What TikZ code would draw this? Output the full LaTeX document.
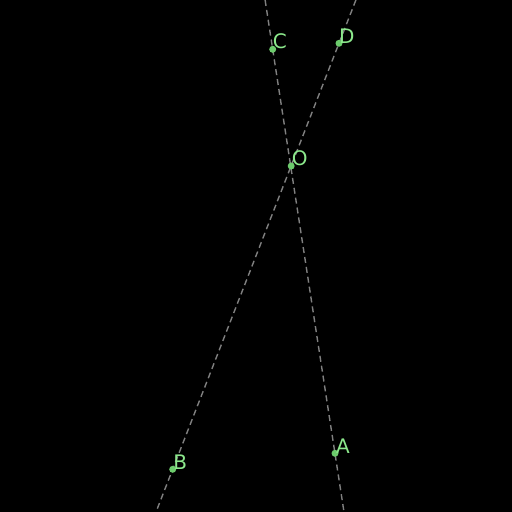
\documentclass[tikz,border=0pt]{standalone}
\usepackage{fontspec}
\setmainfont{DejaVu Sans}
\definecolor{lbl}{HTML}{8CE88C}
\definecolor{dotc}{HTML}{6CCB6C}
\definecolor{ln}{HTML}{808080}
\begin{document}
\begin{tikzpicture}[x=1pt,y=-1pt,
  guide/.style={ln, line width=1.4pt, dash pattern=on 6pt off 4pt},
  pt/.style={circle, fill=dotc, inner sep=0pt, minimum size=7pt},
  lab/.style={lbl, anchor=base west, inner sep=0pt, font=\fontsize{20}{20}\selectfont}]
\fill[black] (0,0) rectangle (512,512);
\useasboundingbox (0,0) rectangle (512,512);
\begin{scope}
\clip (0,0) rectangle (512,512);
\coordinate (t1) at (265.1,0);
\coordinate (b1) at (344.0,512);
\coordinate (t2) at (355.9,0);
\coordinate (b2) at (156.0,512);
\draw[guide] (t1) -- (b1);
\draw[guide] (t2) -- (b2);
\end{scope}
\node[pt] (C) at (272.7,49.3) {};
\node[pt] (D) at (339,43.3) {};
\node[pt] (O) at (291.2,166) {};
\node[pt] (A) at (335,453.3) {};
\node[pt] (B) at (172.7,469.3) {};
\node[lab] (lC) at ([xshift=0pt,yshift=1pt]C.center) {C};
\node[lab] (lD) at ([xshift=0pt]D.center) {D};
\node[lab] (lO) at ([xshift=0.5pt,yshift=1pt]O.center) {O};
\node[lab] (lA) at ([xshift=1pt]A.center) {A};
\node[lab] (lB) at ([xshift=0.5pt]B.center) {B};
\end{tikzpicture}
\end{document}
